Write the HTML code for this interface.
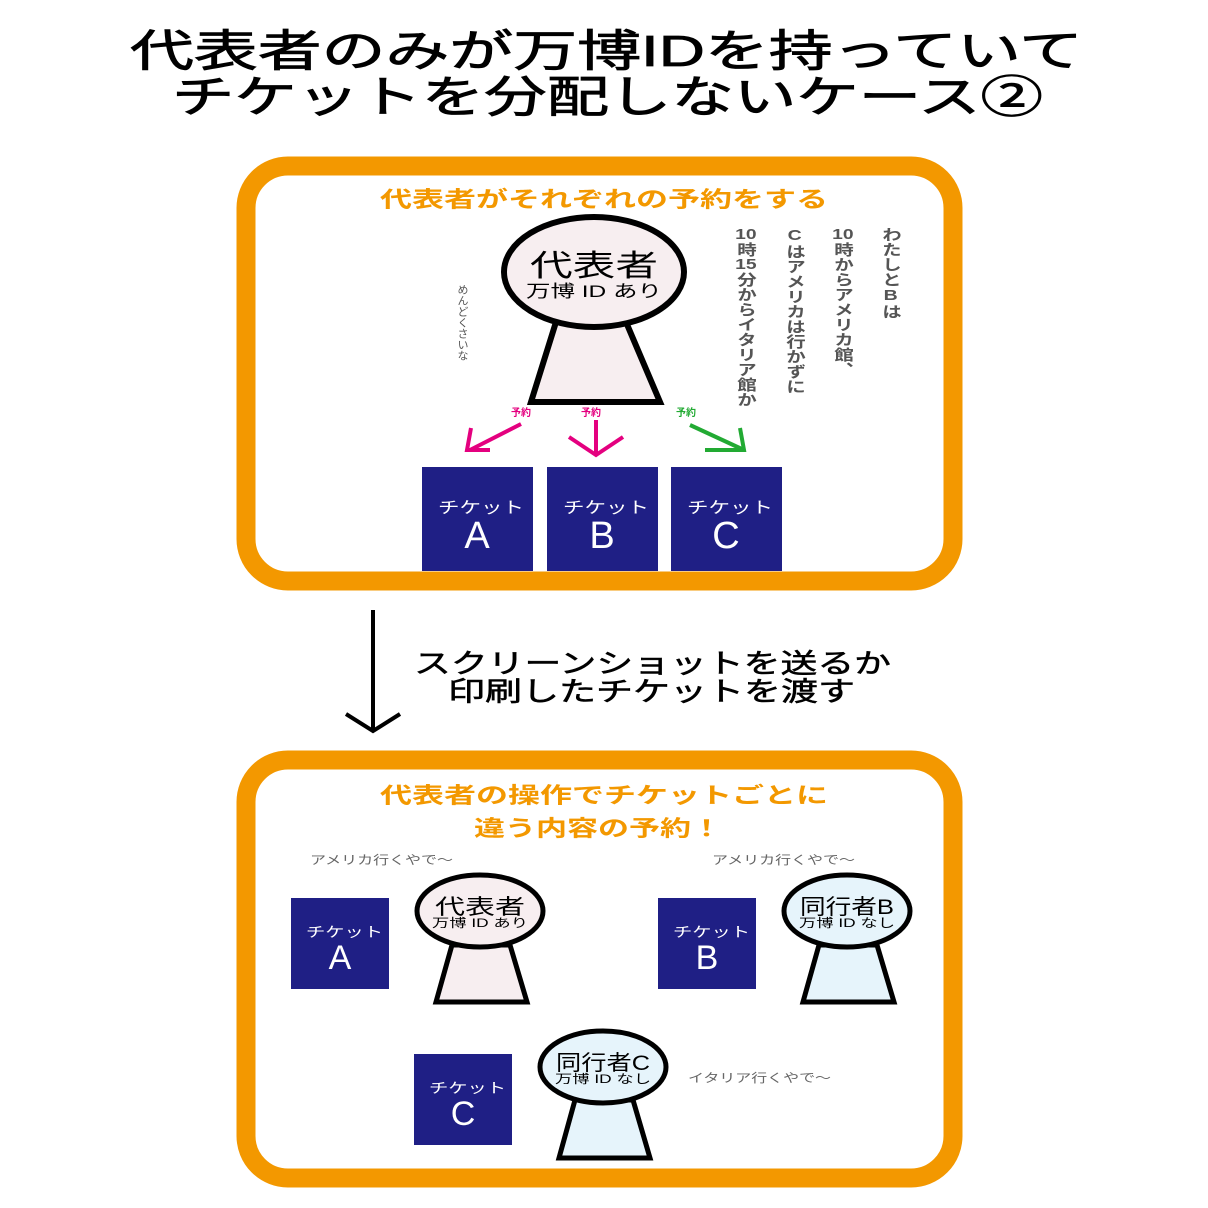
<!DOCTYPE html>
<html><head><meta charset="utf-8"><style>
html,body{margin:0;padding:0;background:#fff;}
svg{display:block;}
text{font-family:"Liberation Sans","Noto Sans CJK JP",sans-serif;}
.v{position:absolute;writing-mode:vertical-rl;text-orientation:upright;font-family:"Liberation Sans","Noto Sans CJK JP",sans-serif;color:#555;font-weight:bold;transform:scale(1.3,1);transform-origin:50% 0;}
.c{text-combine-upright:all;}
</style></head><body>
<div style="position:relative;width:1208px;height:1208px;overflow:hidden;">
<svg width="1208" height="1208" viewBox="0 0 1208 1208">
<rect width="1208" height="1208" fill="#fff"/>
<text x="130" y="66" font-size="44" stroke="#000" stroke-width="0.8" textLength="953" lengthAdjust="spacingAndGlyphs">代表者のみが万博IDを持っていて</text>
<text x="172" y="112" font-size="44" stroke="#000" stroke-width="0.8" textLength="871" lengthAdjust="spacingAndGlyphs">チケットを分配しないケース②</text>

<rect x="246" y="166" width="707" height="415" rx="42" fill="#fff" stroke="#f39800" stroke-width="19"/>
<text x="380" y="207" font-size="22" font-weight="bold" fill="#f39800" textLength="448" lengthAdjust="spacingAndGlyphs">代表者がそれぞれの予約をする</text>

<polygon points="556,322 626,322 660,402 531,402" fill="#f7eef0" stroke="#000" stroke-width="6"/>
<ellipse cx="594" cy="272" rx="90" ry="55" fill="#f7eef0" stroke="#000" stroke-width="6"/>
<text x="594" y="276" font-size="30" text-anchor="middle" textLength="128" lengthAdjust="spacingAndGlyphs">代表者</text>
<text x="594" y="297" font-size="17" text-anchor="middle" textLength="136" lengthAdjust="spacingAndGlyphs">万博 ID あり</text>

<g stroke="#e4007f" stroke-width="4" fill="none">
<line x1="521" y1="424" x2="470" y2="450"/><polyline points="471,428 467,450 490,450"/>
<line x1="596" y1="420" x2="596" y2="455"/><polyline points="569,437 596,455 623,437"/>
</g>
<g stroke="#22aa33" stroke-width="4" fill="none">
<line x1="690" y1="425" x2="744" y2="450"/><polyline points="705,450 744,450 740,428"/>
</g>
<text x="521" y="416" font-size="10" font-weight="bold" fill="#e4007f" text-anchor="middle">予約</text>
<text x="591" y="416" font-size="10" font-weight="bold" fill="#e4007f" text-anchor="middle">予約</text>
<text x="686" y="416" font-size="10" font-weight="bold" fill="#22aa33" text-anchor="middle">予約</text>

<g fill="#1f1f85"><rect x="422" y="467" width="111" height="104"/><rect x="547" y="467" width="111" height="104"/><rect x="671" y="467" width="111" height="104"/></g>
<g fill="#fff">
<text x="438" y="513" font-size="16" textLength="86" lengthAdjust="spacingAndGlyphs">チケット</text><text x="477" y="548" font-size="38" text-anchor="middle">A</text>
<text x="563" y="513" font-size="16" textLength="86" lengthAdjust="spacingAndGlyphs">チケット</text><text x="602" y="548" font-size="38" text-anchor="middle">B</text>
<text x="687" y="513" font-size="16" textLength="86" lengthAdjust="spacingAndGlyphs">チケット</text><text x="726" y="548" font-size="38" text-anchor="middle">C</text>
</g>

<line x1="373" y1="610" x2="373" y2="731" stroke="#000" stroke-width="4"/>
<polyline points="346,714 373,731 400,714" stroke="#000" stroke-width="4" fill="none"/>
<text x="414" y="673" font-size="27" stroke="#000" stroke-width="0.5" textLength="477" lengthAdjust="spacingAndGlyphs">スクリーンショットを送るか</text>
<text x="448" y="701" font-size="27" stroke="#000" stroke-width="0.5" textLength="407" lengthAdjust="spacingAndGlyphs">印刷したチケットを渡す</text>

<rect x="246" y="760" width="707" height="418" rx="42" fill="#fff" stroke="#f39800" stroke-width="19"/>
<text x="380" y="803" font-size="22" font-weight="bold" fill="#f39800" textLength="448" lengthAdjust="spacingAndGlyphs">代表者の操作でチケットごとに</text>
<text x="474" y="836" font-size="22" font-weight="bold" fill="#f39800" textLength="248" lengthAdjust="spacingAndGlyphs">違う内容の予約！</text>

<g font-size="12" fill="#666">
<text x="310" y="864" textLength="143" lengthAdjust="spacingAndGlyphs">アメリカ行くやで〜</text>
<text x="712" y="864" textLength="143" lengthAdjust="spacingAndGlyphs">アメリカ行くやで〜</text>
<text x="688" y="1082" textLength="143" lengthAdjust="spacingAndGlyphs">イタリア行くやで〜</text>
</g>

<g fill="#1f1f85"><rect x="291" y="898" width="98" height="91"/><rect x="658" y="898" width="98" height="91"/><rect x="414" y="1054" width="98" height="91"/></g>
<g fill="#fff">
<text x="306" y="937" font-size="14" textLength="77" lengthAdjust="spacingAndGlyphs">チケット</text><text x="340" y="969" font-size="34" text-anchor="middle">A</text>
<text x="673" y="937" font-size="14" textLength="77" lengthAdjust="spacingAndGlyphs">チケット</text><text x="707" y="969" font-size="34" text-anchor="middle">B</text>
<text x="429" y="1093" font-size="14" textLength="77" lengthAdjust="spacingAndGlyphs">チケット</text><text x="463" y="1125" font-size="34" text-anchor="middle">C</text>
</g>

<g stroke="#000" stroke-width="5">
<polygon points="452,945 510,945 527,1002 436,1002" fill="#f7eef0"/>
<ellipse cx="480" cy="911" rx="63" ry="36" fill="#f7eef0"/>
<polygon points="819,945 877,945 894,1002 803,1002" fill="#e6f4fb"/>
<ellipse cx="847" cy="911" rx="63" ry="36" fill="#e6f4fb"/>
<polygon points="575,1100 633,1100 650,1158 559,1158" fill="#e6f4fb"/>
<ellipse cx="603" cy="1067" rx="63" ry="36" fill="#e6f4fb"/>
</g>
<g text-anchor="middle">
<text x="480" y="914" font-size="21" textLength="90" lengthAdjust="spacingAndGlyphs">代表者</text><text x="480" y="927" font-size="12" textLength="96" lengthAdjust="spacingAndGlyphs">万博 ID あり</text>
<text x="847" y="914" font-size="21" textLength="94" lengthAdjust="spacingAndGlyphs">同行者B</text><text x="847" y="927" font-size="12" textLength="96" lengthAdjust="spacingAndGlyphs">万博 ID なし</text>
<text x="603" y="1070" font-size="21" textLength="94" lengthAdjust="spacingAndGlyphs">同行者C</text><text x="603" y="1083" font-size="12" textLength="96" lengthAdjust="spacingAndGlyphs">万博 ID なし</text>
</g>
</svg>
<div class="v" style="left:881px;top:227px;font-size:15px;line-height:18px;">わたしとBは</div>
<div class="v" style="left:833px;top:227px;font-size:15px;line-height:18px;"><span class="c">10</span>時からアメリカ館、</div>
<div class="v" style="left:785px;top:227px;font-size:15px;line-height:18px;">Cはアメリカは行かずに</div>
<div class="v" style="left:736px;top:227px;font-size:15px;line-height:18px;"><span class="c">10</span>時<span class="c">15</span>分からイタリア館か</div>
<div class="v" style="left:455px;top:284px;font-size:11px;line-height:14px;font-weight:normal;transform:none;">めんどくさいな</div>
</div>
</body></html>
